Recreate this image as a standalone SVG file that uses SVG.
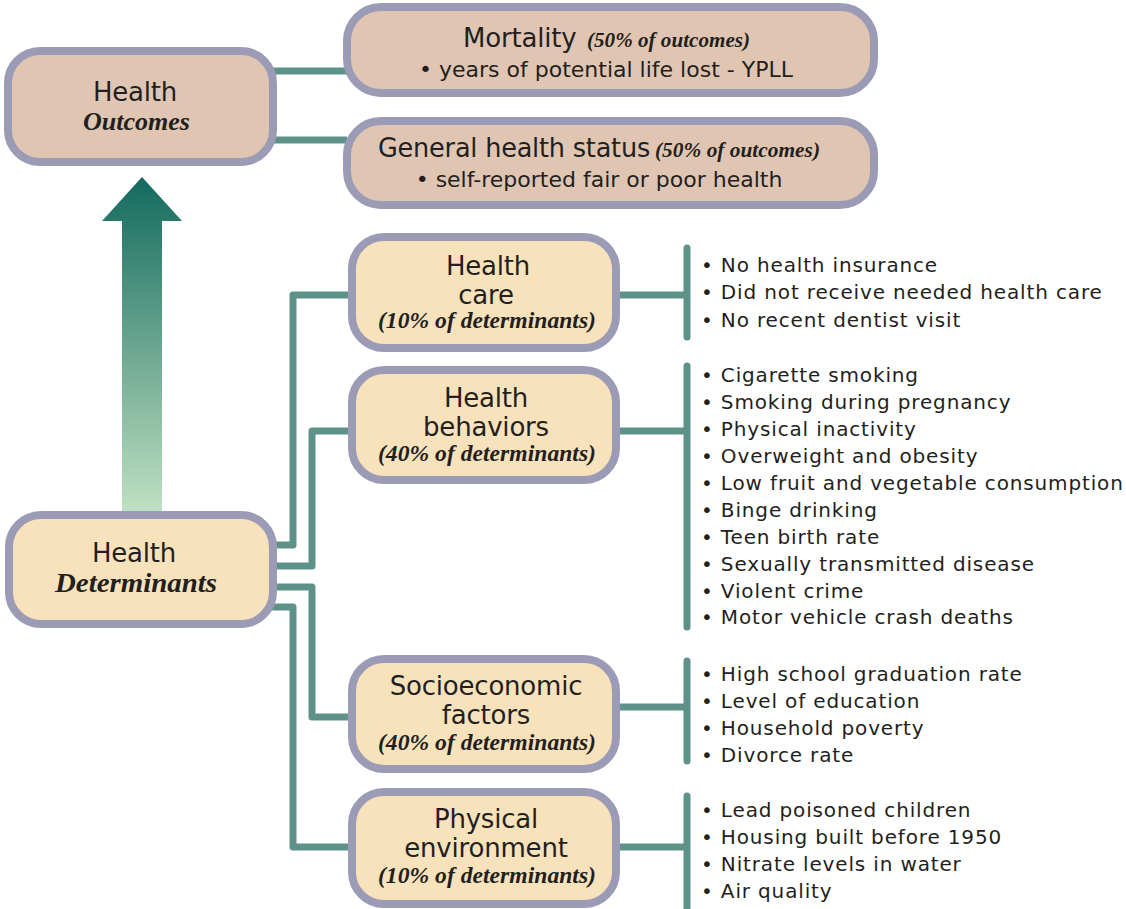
<svg xmlns="http://www.w3.org/2000/svg" width="1126" height="909" viewBox="0 0 1126 909">
<style>
.box{stroke:#9c9bb6;stroke-width:8}
.out{fill:#e0c6b2}
.det{fill:#f8e2bb}
.t{font-family:"DejaVu Sans",Verdana,sans-serif;fill:#231f20}
.h{font-size:26px;letter-spacing:-0.2px}
.s{font-family:"Liberation Serif","Times New Roman",serif;font-style:italic;font-weight:bold;fill:#231f20}
.li{font-family:"DejaVu Sans",Verdana,sans-serif;font-size:20px;letter-spacing:0.85px;fill:#231f20}
.c{fill:none;stroke:#5e9189;stroke-width:7;stroke-linejoin:round}
.bar{fill:none;stroke:#5e9189;stroke-width:7;stroke-linecap:round}
</style>
<defs>
<linearGradient id="ag" x1="0" y1="177" x2="0" y2="512" gradientUnits="userSpaceOnUse">
<stop offset="0" stop-color="#126a5d"/>
<stop offset="1" stop-color="#c0e0c2"/>
</linearGradient>
</defs>
<rect width="1126" height="909" fill="#fff"/>
<g id="connectors">
<path class="c" d="M270,71 H347"/>
<path class="c" d="M270,140 H347"/>
<path class="c" d="M270,545 H293 V295 H352"/>
<path class="c" d="M270,566 H312 V431 H352"/>
<path class="c" d="M270,587 H312 V717 H352"/>
<path class="c" d="M270,607 H293 V847 H352"/>
<path class="c" d="M616,295 H687"/>
<path class="c" d="M616,431 H687"/>
<path class="c" d="M616,707 H687"/>
<path class="c" d="M616,847 H687"/>
<path class="bar" d="M687,248 V337"/>
<path class="bar" d="M687,366 V627"/>
<path class="bar" d="M687,661 V761"/>
<path class="bar" d="M687,796 V915"/>
</g>
<g id="arrow">
<polygon points="142,177 182,221 162,221 162,514 122,514 122,221 102,221" fill="url(#ag)"/>
</g>
<g id="health-outcomes">
<rect class="box out" x="8" y="51" width="265" height="111" rx="32"/>
<text class="t h" x="135" y="101" text-anchor="middle">Health</text>
<text class="s" x="83" y="130" font-size="26" textLength="107" lengthAdjust="spacingAndGlyphs">Outcomes</text>
</g>
<g id="mortality">
<rect class="box out" x="347" y="7" width="527" height="86" rx="34"/>
<text class="t h" x="463" y="47">Mortality</text>
<text class="s" x="587" y="47" font-size="21" textLength="163" lengthAdjust="spacingAndGlyphs">(50% of outcomes)</text>
<text class="t" x="606" y="77" font-size="22" text-anchor="middle">• years of potential life lost - YPLL</text>
</g>
<g id="general-health">
<rect class="box out" x="347" y="121" width="527" height="84" rx="34"/>
<text class="t h" x="378" y="157" textLength="272" lengthAdjust="spacingAndGlyphs">General health status</text>
<text class="s" x="655" y="157" font-size="21" textLength="165" lengthAdjust="spacingAndGlyphs">(50% of outcomes)</text>
<text class="t" x="599" y="187" font-size="22" text-anchor="middle">• self-reported fair or poor health</text>
</g>
<g id="health-determinants">
<rect class="box det" x="9" y="515" width="264" height="109" rx="32"/>
<text class="t h" x="134" y="562" text-anchor="middle">Health</text>
<text class="s" x="55" y="592" font-size="27" textLength="162" lengthAdjust="spacingAndGlyphs">Determinants</text>
</g>
<g id="health-care">
<rect class="box det" x="352" y="237" width="264" height="111" rx="32"/>
<text class="t h" x="488" y="275" text-anchor="middle">Health</text>
<text class="t h" x="486" y="304" text-anchor="middle">care</text>
<text class="s" x="378" y="328" font-size="23" textLength="218" lengthAdjust="spacingAndGlyphs">(10% of determinants)</text>
</g>
<g id="health-behaviors">
<rect class="box det" x="352" y="370" width="264" height="110" rx="32"/>
<text class="t h" x="486" y="407" text-anchor="middle">Health</text>
<text class="t h" x="486" y="436" text-anchor="middle">behaviors</text>
<text class="s" x="378" y="461" font-size="23" textLength="218" lengthAdjust="spacingAndGlyphs">(40% of determinants)</text>
</g>
<g id="socioeconomic">
<rect class="box det" x="352" y="659" width="264" height="110" rx="32"/>
<text class="t h" x="486" y="695" text-anchor="middle">Socioeconomic</text>
<text class="t h" x="486" y="724" text-anchor="middle">factors</text>
<text class="s" x="378" y="750" font-size="23" textLength="218" lengthAdjust="spacingAndGlyphs">(40% of determinants)</text>
</g>
<g id="physical-environment">
<rect class="box det" x="352" y="792" width="264" height="112" rx="32"/>
<text class="t h" x="486" y="828" text-anchor="middle">Physical</text>
<text class="t h" x="486" y="857" text-anchor="middle">environment</text>
<text class="s" x="378" y="883" font-size="23" textLength="218" lengthAdjust="spacingAndGlyphs">(10% of determinants)</text>
</g>
<g id="list-care">
<text class="li" x="701" y="272">• No health insurance</text>
<text class="li" x="701" y="299">• Did not receive needed health care</text>
<text class="li" x="701" y="327">• No recent dentist visit</text>
</g>
<g id="list-behaviors">
<text class="li" x="701" y="382">• Cigarette smoking</text>
<text class="li" x="701" y="409">• Smoking during pregnancy</text>
<text class="li" x="701" y="436">• Physical inactivity</text>
<text class="li" x="701" y="463">• Overweight and obesity</text>
<text class="li" x="701" y="490">• Low fruit and vegetable consumption</text>
<text class="li" x="701" y="517">• Binge drinking</text>
<text class="li" x="701" y="544">• Teen birth rate</text>
<text class="li" x="701" y="571">• Sexually transmitted disease</text>
<text class="li" x="701" y="598">• Violent crime</text>
<text class="li" x="701" y="624">• Motor vehicle crash deaths</text>
</g>
<g id="list-socio">
<text class="li" x="701" y="681">• High school graduation rate</text>
<text class="li" x="701" y="708">• Level of education</text>
<text class="li" x="701" y="735">• Household poverty</text>
<text class="li" x="701" y="762">• Divorce rate</text>
</g>
<g id="list-physical">
<text class="li" x="701" y="817">• Lead poisoned children</text>
<text class="li" x="701" y="844">• Housing built before 1950</text>
<text class="li" x="701" y="871">• Nitrate levels in water</text>
<text class="li" x="701" y="898">• Air quality</text>
</g>
</svg>
